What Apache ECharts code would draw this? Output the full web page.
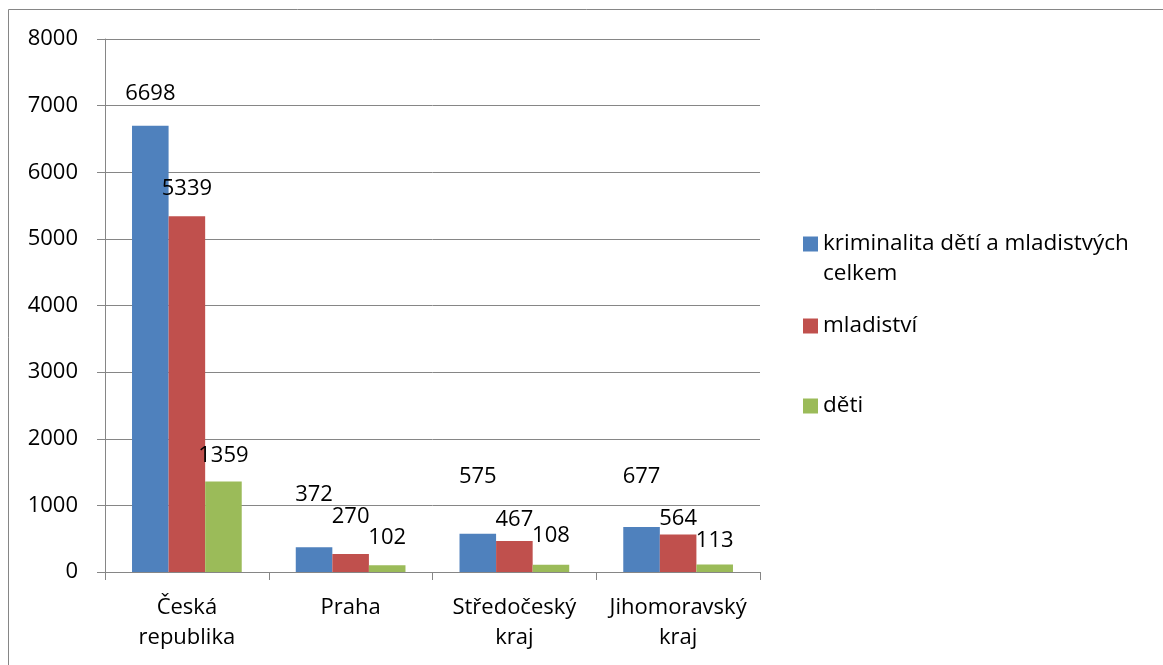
<!DOCTYPE html>
<html>
<head>
<meta charset="utf-8">
<script src="https://cdn.jsdelivr.net/npm/echarts@6/dist/echarts.min.js"></script>
<style>
  html, body { margin: 0; padding: 0; background: #fff; }
  #c1 { width: 1163px; height: 665px; }
</style>
</head>
<body>
<div id="c1"></div>
<script>
var kraje = ["Česká\nrepublika", "Praha", "Středočeský\nkraj", "Jihomoravský\nkraj"];
var nazvy = ["kriminalita dětí a mladistvých celkem", "mladiství", "děti"];
var celkem = [6698, 372, 575, 677];
var mladistvi = [5339, 270, 467, 564];
var deti = [1359, 102, 108, 113];
var osaMax = 8000;
var osaKrok = 1000;

// how far each value label sits above its bar (moved by hand in the original)
var zdvih = [
  [21, 41, 46, 39],
  [17, 26, 10, 5],
  [15, 16, 18, 13],
];
var barvy = ["#4F81BD", "#C0504D", "#9BBB59"];
var legendTop = [199, 311, 391];

var pismo = "Open Sans";
var seda = "#868686";

function serie(i, hodnoty) {
  return {
    name: nazvy[i],
    type: "bar",
    barGap: "0%",
    barCategoryGap: "33%",
    itemStyle: { color: barvy[i] },
    label: {
      show: true,
      position: "top",
      color: "#000",
      fontFamily: pismo,
      fontSize: 22,
    },
    data: hodnoty.map(function (v, j) {
      return { value: v, label: { distance: zdvih[i][j] } };
    }),
  };
}

var chartDom = document.getElementById("c1");
var myChart = echarts.init(chartDom);
var option = {
  animation: false,
  graphic: [
    {
      type: "rect",
      shape: { x: 8.5, y: 9.5, width: 1200, height: 700 },
      style: { fill: "none", stroke: seda, lineWidth: 1 },
      silent: true,
    },
  ],
  legend: nazvy.map(function (n, i) {
    return {
      data: [n],
      orient: "vertical",
      left: 803,
      top: legendTop[i],
      padding: 0,
      icon: "rect",
      itemWidth: 15,
      itemHeight: 15,
      selectedMode: false,
      // blank first line keeps the square beside the first text line
      formatter: function (name) {
        return name == nazvy[0] ? " \nkriminalita dětí a mladistvých\ncelkem" : name;
      },
      textStyle: {
        color: "#000",
        fontFamily: pismo,
        fontSize: 22.5,
        lineHeight: 30,
      },
    };
  }),
  grid: {
    left: 105,
    top: 39,
    right: 403,
    bottom: 93,
    containLabel: false,
  },
  xAxis: {
    type: "category",
    data: kraje,
    axisLine: { lineStyle: { color: seda } },
    axisTick: { show: true, length: 8, lineStyle: { color: seda } },
    axisLabel: {
      interval: 0,
      margin: 21,
      color: "#000",
      fontFamily: pismo,
      fontSize: 22,
      lineHeight: 30,
    },
  },
  yAxis: {
    type: "value",
    min: 0,
    max: osaMax,
    interval: osaKrok,
    axisLine: { show: true, lineStyle: { color: seda } },
    axisTick: { show: true, length: 8, lineStyle: { color: seda } },
    splitLine: { lineStyle: { color: seda } },
    axisLabel: {
      margin: 27,
      color: "#000",
      fontFamily: pismo,
      fontSize: 22,
      formatter: function (v) {
        return String(v);
      },
    },
  },
  series: [serie(0, celkem), serie(1, mladistvi), serie(2, deti)],
};
myChart.setOption(option);
</script>
</body>
</html>
